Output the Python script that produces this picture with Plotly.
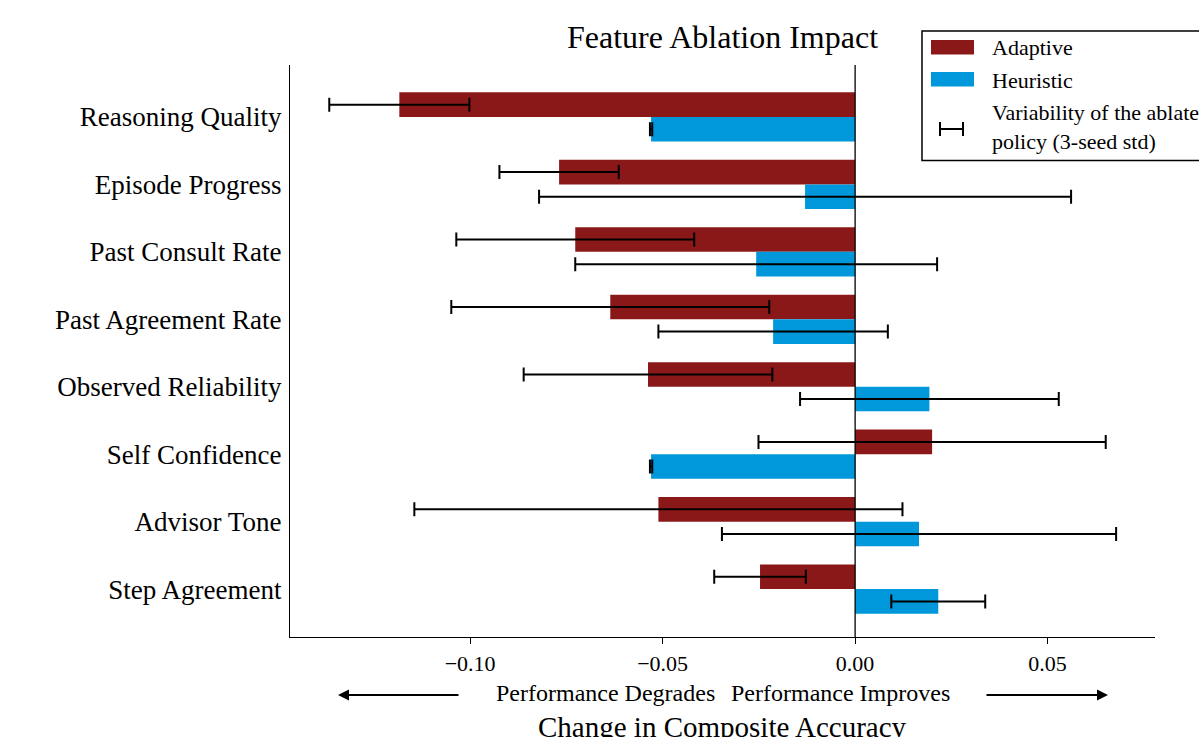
import plotly.graph_objects as go

# Ablated features (top to bottom) and change in composite accuracy
features = [
    "Reasoning Quality",
    "Episode Progress",
    "Past Consult Rate",
    "Past Agreement Rate",
    "Observed Reliability",
    "Self Confidence",
    "Advisor Tone",
    "Step Agreement",
]
adaptive_delta = [-0.1184, -0.0769, -0.0727, -0.0636, -0.0538, 0.0200, -0.0511, -0.0247]
adaptive_std = [0.0182, 0.0155, 0.0309, 0.0413, 0.0323, 0.0451, 0.0634, 0.0119]
heuristic_delta = [-0.0530, -0.0130, -0.0257, -0.0213, 0.0193, -0.0530, 0.0166, 0.0216]
heuristic_std = [0.0003, 0.0691, 0.0470, 0.0298, 0.0336, 0.0003, 0.0512, 0.0122]

x_ticks = [-0.10, -0.05, 0.00, 0.05]
x_tick_text = ["\u22120.10", "\u22120.05", "0.00", "0.05"]

RED = "#8B1818"
BLUE = "#0098DA"
FONT = "Liberation Serif"

W, H = 1199, 737
L, R, T, B = 290, 44, 65, 100


def px(xp):
    return (xp - L) / (W - L - R)


def py(yp):
    return (H - B - yp) / (H - T - B)


err_style = dict(type="data", color="black", thickness=2, width=7)

fig = go.Figure()
fig.add_trace(go.Bar(
    y=features, x=adaptive_delta, orientation="h", name="Adaptive",
    marker=dict(color=RED, line=dict(width=0)),
    error_x=dict(array=adaptive_std, **err_style),
))
fig.add_trace(go.Bar(
    y=features, x=heuristic_delta, orientation="h", name="Heuristic",
    marker=dict(color=BLUE, line=dict(width=0)),
    error_x=dict(array=heuristic_std, **err_style),
))

shapes = [
    # zero reference line
    dict(type="line", xref="x", yref="paper", x0=0, x1=0, y0=0, y1=1,
         line=dict(color="black", width=1.3)),
    # legend frame
    dict(type="rect", xref="paper", yref="paper",
         x0=px(922), x1=px(1215), y0=py(160.5), y1=py(31),
         line=dict(color="black", width=1.5), fillcolor="white", layer="above"),
    dict(type="rect", xref="paper", yref="paper",
         x0=px(931), x1=px(974), y0=py(54.5), y1=py(40),
         line=dict(width=0), fillcolor=RED, layer="above"),
    dict(type="rect", xref="paper", yref="paper",
         x0=px(931), x1=px(974), y0=py(86.5), y1=py(72),
         line=dict(width=0), fillcolor=BLUE, layer="above"),
    dict(type="line", xref="paper", yref="paper",
         x0=px(940), x1=px(963), y0=py(129), y1=py(129),
         line=dict(color="black", width=2), layer="above"),
    dict(type="line", xref="paper", yref="paper",
         x0=px(940), x1=px(940), y0=py(122), y1=py(136),
         line=dict(color="black", width=2), layer="above"),
    dict(type="line", xref="paper", yref="paper",
         x0=px(963), x1=px(963), y0=py(122), y1=py(136),
         line=dict(color="black", width=2), layer="above"),
]

annotations = [
    dict(text="Adaptive", xref="paper", yref="paper", x=px(990), y=py(48),
         xanchor="left", yanchor="middle", showarrow=False,
         font=dict(family=FONT, size=22, color="black")),
    dict(text="Heuristic", xref="paper", yref="paper", x=px(990), y=py(80),
         xanchor="left", yanchor="middle", showarrow=False,
         font=dict(family=FONT, size=22, color="black")),
    dict(text="Variability of the ablated<br>policy (3-seed std)", xref="paper", yref="paper",
         x=px(990), y=py(127), xanchor="left", yanchor="middle", align="left",
         showarrow=False, font=dict(family=FONT, size=22, color="black")),
    # direction hints under the axis
    dict(text="Performance Degrades", xref="paper", yref="paper", x=0.5, y=py(693),
         xanchor="right", xshift=-6, yanchor="middle", showarrow=False,
         font=dict(family=FONT, size=24, color="black")),
    dict(text="Performance Improves", xref="paper", yref="paper", x=0.5, y=py(693),
         xanchor="left", xshift=6, yanchor="middle", showarrow=False,
         font=dict(family=FONT, size=24, color="black")),
    dict(text="", xref="paper", yref="paper", x=px(338), y=py(695),
         ax=122, ay=0, showarrow=True, arrowhead=2, arrowsize=1, arrowwidth=2.2,
         arrowcolor="black"),
    dict(text="", xref="paper", yref="paper", x=px(1108), y=py(695),
         ax=-123, ay=0, showarrow=True, arrowhead=2, arrowsize=1, arrowwidth=2.2,
         arrowcolor="black"),
    # x-axis title
    dict(text="Change in Composite Accuracy", xref="paper", yref="paper",
         x=0.5, y=py(727), xanchor="center", yanchor="middle", showarrow=False,
         font=dict(family=FONT, size=29, color="black")),
    # chart title
    dict(text="Feature Ablation Impact", xref="paper", yref="paper",
         x=0.5, y=py(37), xanchor="center", yanchor="middle", showarrow=False,
         font=dict(family=FONT, size=32, color="black")),
]

fig.update_layout(
    width=W, height=H,
    margin=dict(l=L, r=R, t=T, b=B, autoexpand=False),
    paper_bgcolor="white", plot_bgcolor="white",
    barmode="group", bargap=0.27, bargroupgap=0,
    showlegend=False,
    font=dict(family=FONT, color="black"),
    xaxis=dict(
        range=[-0.1468, 0.0779], tickvals=x_ticks, ticktext=x_tick_text,
        showgrid=False, zeroline=False, showline=True, linecolor="black", linewidth=1.3,
        ticks="outside", ticklen=6, tickwidth=1.3, tickcolor="black",
        tickfont=dict(family=FONT, size=22, color="black"), automargin=False,
    ),
    yaxis=dict(
        categoryorder="array", categoryarray=features, range=[7.71, -0.77],
        showgrid=False, zeroline=False, showline=True, linecolor="black", linewidth=1.3,
        ticks="", ticklabelstandoff=2, automargin=False,
        tickfont=dict(family=FONT, size=27, color="black"),
    ),
    shapes=shapes,
    annotations=annotations,
)

fig.write_html("out.html")
